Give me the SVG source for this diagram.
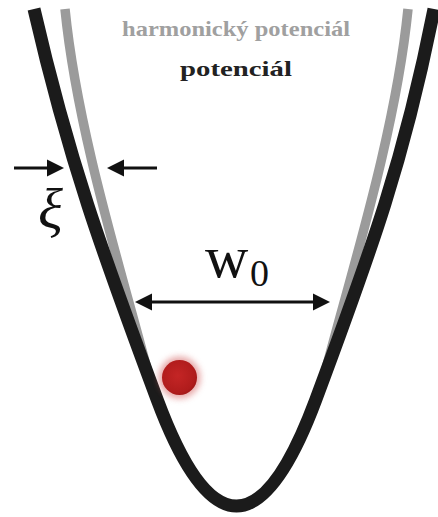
<svg xmlns="http://www.w3.org/2000/svg" width="438" height="517" viewBox="0 0 438 517">
  <defs>
    <style>
      .lbl { font-family: "Liberation Serif", "Times New Roman", serif; font-weight: bold; font-size: 22px; }
      .math { font-family: "Liberation Serif", "Times New Roman", serif; fill: #111; }
      .arrow { stroke: #111; stroke-width: 3.2; fill: none; }
      .head { fill: #111; }
    </style>
    <radialGradient id="ballGrad" cx="0.45" cy="0.45" r="0.6">
      <stop offset="0" stop-color="#c42525"/>
      <stop offset="0.8" stop-color="#b01c1c"/>
      <stop offset="1" stop-color="#9c1616"/>
    </radialGradient>
    <filter id="glow" x="-1" y="-1" width="3" height="3">
      <feGaussianBlur stdDeviation="3"/>
    </filter>
  </defs>
  <rect width="438" height="517" fill="#ffffff"/>

  <g id="harmonic-curve">
    <path d="M65,9 C78,139 126,285 153,392 L157.3,400 Q236.5,612 315.7,400 L320,392 C347,285 395,139 408,9" fill="none" stroke="#9b9b9b" stroke-width="9.5"/>
  </g>
  <g id="potential-curve">
    <path d="M34,9 C68.5,159 101.4,250 157.3,400 Q236.5,612 315.7,400 C371.6,250 404.5,159 434,9" fill="none" stroke="#1b1b1b" stroke-width="13"/>
  </g>

  <g id="label-harmonic">
    <text class="lbl" x="122" y="36" fill="#a0a0a0" textLength="228" lengthAdjust="spacingAndGlyphs">harmonický potenciál</text>
  </g>
  <g id="label-potential">
    <text class="lbl" x="180" y="76" fill="#222222" textLength="112" lengthAdjust="spacingAndGlyphs">potenciál</text>
  </g>

  <g id="connectors">
    <g id="xi-arrow-left">
      <line class="arrow" x1="14" y1="168" x2="50" y2="168"/>
      <polygon class="head" points="64,168 47,159.5 47,176.5"/>
    </g>
    <g id="xi-arrow-right">
      <line class="arrow" x1="157" y1="168" x2="121" y2="168"/>
      <polygon class="head" points="107,168 124,159.5 124,176.5"/>
    </g>
    <g id="w0-arrow">
      <line class="arrow" x1="148" y1="302" x2="317" y2="302"/>
      <polygon class="head" points="135,302 152,293.5 152,310.5"/>
      <polygon class="head" points="330,302 313,293.5 313,310.5"/>
    </g>
  </g>

  <g id="label-xi">
    <text class="math" x="38" y="228" font-size="58" font-style="italic">ξ</text>
  </g>
  <g id="label-w0">
    <text class="math" x="205" y="277" font-size="60">w</text>
    <text class="math" x="250" y="286" font-size="38">0</text>
  </g>

  <g id="ball">
    <circle cx="179.5" cy="377.5" r="21" fill="#d46060" opacity="0.55" filter="url(#glow)"/>
    <circle cx="179.5" cy="377.5" r="17.5" fill="url(#ballGrad)"/>
  </g>
</svg>
